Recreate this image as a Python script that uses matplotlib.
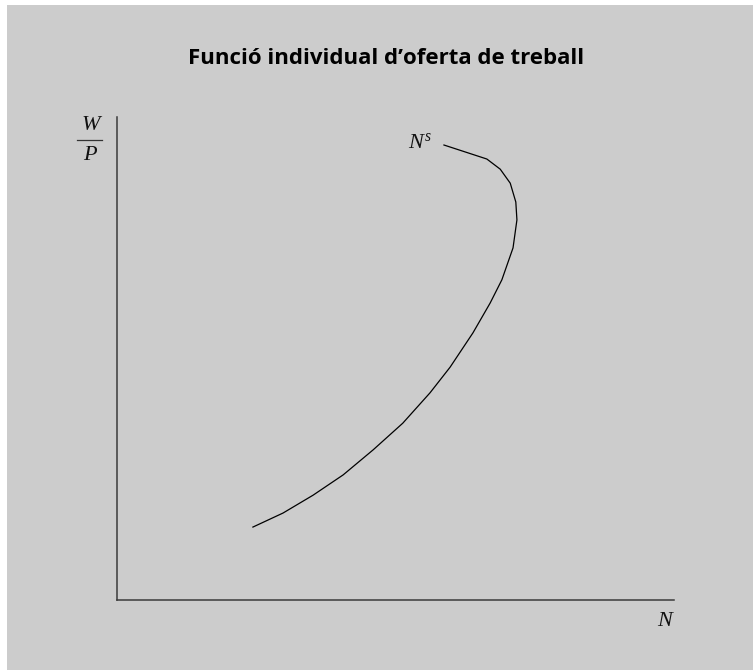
import matplotlib
matplotlib.use("Agg")
import matplotlib.pyplot as plt
from matplotlib.patches import Rectangle
from matplotlib.lines import Line2D

plt.rcParams["mathtext.fontset"] = "custom"
plt.rcParams["mathtext.it"] = "Liberation Serif:italic"
plt.rcParams["mathtext.rm"] = "Liberation Serif"

# labour supply curve N^s (arbitrary units, axis origin at 0, axis ends at 100)
n_values = [24.4, 29.8, 35.2, 40.6, 46.0, 51.3, 56.2, 59.8, 63.9, 67.0,
            69.1, 71.1, 71.8, 71.6, 70.6, 68.8, 66.4, 58.7]
wp_values = [15.1, 18.0, 21.7, 25.9, 31.1, 36.6, 42.9, 48.2, 55.3, 61.5,
             66.3, 72.9, 78.7, 82.4, 86.3, 89.2, 91.3, 94.2]

title = "Funció individual d\u2019oferta de treball"
curve_label = r"$N^{s}$"
x_label = "N"
y_num = "W"
y_den = "P"

W, H = 753, 670
fig = plt.figure(figsize=(W / 100, H / 100), dpi=100, facecolor="white")

# grey panel behind everything
fig.patches.append(Rectangle((7 / W, 0), 1 - 7 / W, 1 - 5 / H,
                             transform=fig.transFigure, facecolor="#cccccc",
                             edgecolor="none", zorder=-10))

ax = fig.add_axes([117 / W, (H - 600) / H, 557 / W, 483 / H])
ax.set_facecolor("none")
ax.set_xlim(0, 100)
ax.set_ylim(0, 100)
for side in ["top", "right"]:
    ax.spines[side].set_visible(False)
for side in ["left", "bottom"]:
    ax.spines[side].set_color("#3a3a3a")
    ax.spines[side].set_linewidth(1.1)
ax.set_xticks([])
ax.set_yticks([])

ax.plot(n_values, wp_values, color="black", linewidth=0.9)

serif = dict(family="Liberation Serif", style="italic", color="#111111")

# N^s label near top end of curve
ax.text(n_values[-1] - 2.2, wp_values[-1] + 0.6, curve_label, fontsize=16,
        ha="right", va="center", color="#111111")

# axis labels
fig.text(665 / W, 1 - 622 / H, x_label, fontsize=16, ha="center", va="center", **serif)
fig.text(91 / W, 1 - 125 / H, y_num, fontsize=16, ha="center", va="center", **serif)
fig.text(90 / W, 1 - 155 / H, y_den, fontsize=16, ha="center", va="center", **serif)
fig.lines.append(Line2D([77 / W, 102 / W], [1 - 140 / H, 1 - 140 / H],
                        transform=fig.transFigure, color="#333333", linewidth=0.9))

fig.text(386 / W, 1 - 58 / H, title, fontsize=16, fontweight="bold",
         family="Open Sans", ha="center", va="center", color="black")

fig.savefig("out.png", dpi=100, facecolor=fig.get_facecolor())
